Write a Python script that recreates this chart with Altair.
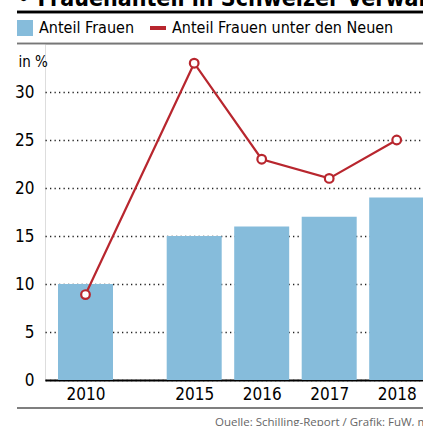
import altair as alt
import pandas as pd

years = [2010, 2015, 2016, 2017, 2018]
anteil_frauen = [10, 15, 16, 17, 19]
anteil_neue = [8.9, 33, 23, 21, 25]
series_names = ["Anteil Frauen", "Anteil Frauen unter den Neuen"]
y_ticks = [0, 5, 10, 15, 20, 25, 30]
title_text = "• Frauenanteil in Schweizer Verwaltungsräten"
source_text = "Quelle: Schilling-Report / Grafik: FuW, mt"

rows = []
for yr, v in zip(years, anteil_frauen):
    rows.append({"Jahr": yr, "Wert": v, "Serie": series_names[0]})
for yr, v in zip(years, anteil_neue):
    rows.append({"Jahr": yr, "Wert": v, "Serie": series_names[1]})
df = pd.DataFrame(rows)

FONT = "DejaVu Sans Condensed, sans-serif"
BLUE = "#86bcdb"
RED = "#b8262e"

# piecewise x scale: the gap 2010 -> 2015 is compressed as in the original graphic
xscale = alt.Scale(domain=[2008.14, 2010, 2015, 2018, 2018.39],
                   range=[0, 40.5, 149.2, 351.7, 378], nice=False, zero=False, padding=0)
yscale = alt.Scale(domain=[0, 35], nice=False)
cscale = alt.Scale(domain=series_names, range=[BLUE, RED])

legend = alt.Legend(
    orient="none", legendX=-28, legendY=-24, direction="horizontal", title=None,
    labelFont=FONT, labelFontSize=16, labelColor="black", labelOffset=6, labelLimit=0,
    symbolSize=256, columnPadding=16, padding=0,
    symbolType={"expr": "datum.value == 'Anteil Frauen' ? 'M-1,-1H1V1H-1Z' : 'M-1,-0.25H1V0.25H-1Z'"},
    symbolStrokeWidth=0, symbolOpacity=1,
)

x_enc = alt.X("Jahr:Q", scale=xscale,
              axis=alt.Axis(values=years, format="d", title=None, ticks=False, grid=False,
                            domainColor="black", domainWidth=2, labelFont=FONT, labelFontSize=17,
                            labelColor="black", labelPadding=6, labelFlush=False))
y_enc = alt.Y("Wert:Q", scale=yscale,
              axis=alt.Axis(values=y_ticks, title="in %", titleAngle=0, titleX=-27, titleY=22,
                            titleAlign="left", titleBaseline="alphabetic", titleFont=FONT,
                            titleFontSize=15, titleFontWeight="normal", titleColor="black",
                            domain=False, ticks=False, labelFont=FONT, labelFontSize=17,
                            labelColor="black", labelPadding=11, grid=True, gridColor="#222",
                            gridDash=[1.3, 3.2], gridWidth=1.3))

base = alt.Chart(df)
bars = base.transform_filter(alt.datum.Serie == series_names[0]).mark_bar(size=55).encode(
    x=x_enc, y=y_enc, color=alt.Color("Serie:N", scale=cscale, legend=legend))
line_data = base.transform_filter(alt.datum.Serie == series_names[1])
line = line_data.mark_line(strokeWidth=2.2).encode(
    x="Jahr:Q", y="Wert:Q", color=alt.Color("Serie:N", scale=cscale, legend=None))
points = line_data.mark_point(filled=False, fill="white", fillOpacity=1, opacity=1,
                              size=75, strokeWidth=2.2).encode(
    x="Jahr:Q", y="Wert:Q", color=alt.Color("Serie:N", scale=cscale, legend=None))

deco = pd.DataFrame({"t": [title_text, source_text]})
title_mark = alt.Chart(deco).transform_filter(alt.datum.t == title_text).mark_text(
    align="left", baseline="alphabetic", font=FONT, fontSize=23, fontWeight="bold", color="black"
).encode(text="t:N", x=alt.value(-28), y=alt.value(-38))
source_mark = alt.Chart(deco).transform_filter(alt.datum.t == source_text).mark_text(
    align="left", baseline="alphabetic", font="Open Sans, DejaVu Sans, sans-serif", fontSize=11.5,
    color="#666"
).encode(text="t:N", x=alt.value(170), y=alt.value(382))

rule_top = alt.Chart(deco).mark_rule(color="black", strokeWidth=2.4).encode(
    x=alt.value(-28), x2=alt.value(378), y=alt.value(-32))
rule_mid = alt.Chart(deco).mark_rule(color="#777", strokeWidth=1.6).encode(
    x=alt.value(-28), x2=alt.value(378), y=alt.value(-0.5))
rule_bot = alt.Chart(deco).mark_rule(color="#777", strokeWidth=1.6).encode(
    x=alt.value(-28), x2=alt.value(378), y=alt.value(364))

chart = alt.layer(bars, line, points, rule_top, rule_mid, rule_bot, title_mark, source_mark).properties(
    width=378, height=336,
    padding={"left": 45, "top": 44, "right": 0, "bottom": 46},
    autosize=alt.AutoSizeParams(type="none"),
).configure_view(stroke=None).configure(background="white")

chart.save("out.html", embed_options={"renderer": "svg", "actions": False})
